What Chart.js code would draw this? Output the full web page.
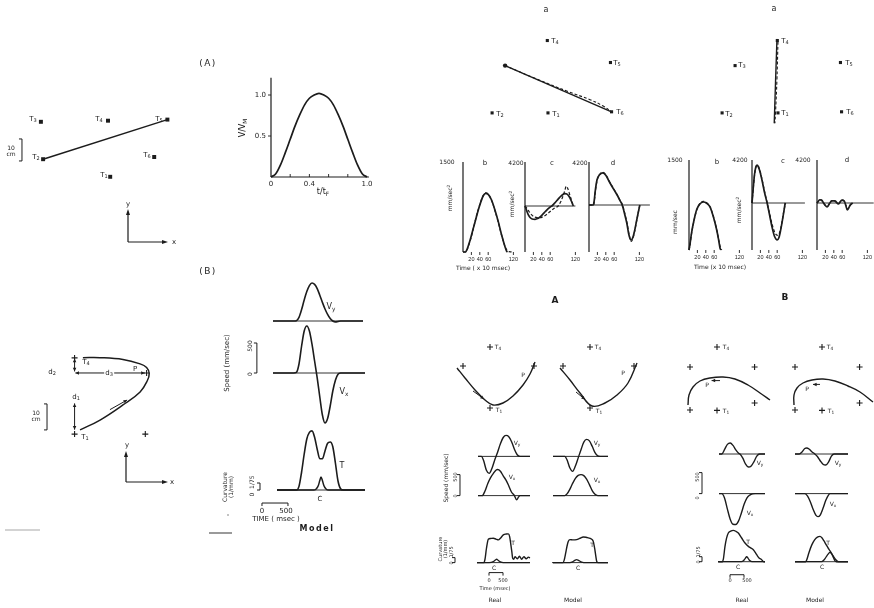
<!DOCTYPE html>
<html>
<head>
<meta charset="utf-8">
<title>Arm trajectories: targets, speed and curvature</title>
<script src="https://cdn.jsdelivr.net/npm/chart.js@4.4.1/dist/chart.umd.min.js"></script>
<style>
  body { margin: 0; background: #fff; }
  #fig { position: relative; width: 874px; height: 608px; overflow: hidden; background: #fff;
         font-family: "DejaVu Sans", sans-serif; color: #1c1c1c; }
  #fig canvas { position: absolute; z-index: 1; }
  #fig svg { position: absolute; left: 0; top: 0; z-index: 2; }
  .lab { position: absolute; z-index: 3; white-space: nowrap; line-height: 1; text-align: center; }
  .lab sub { font-size: .72em; vertical-align: -.3em; line-height: 0; }
  .lab sup { font-size: .72em; vertical-align: .5em; line-height: 0; }
</style>
</head>
<body>
<div id="fig">
  <svg width="874" height="608">
    <g stroke="#1c1c1c" stroke-width="1.2" fill="none">
      <path d="M128 242 V213 M128 242 H163"/>
      <path d="M126 482 V455 M126 482 H163"/>
    </g>
    <g fill="#1c1c1c">
      <polygon points="128,209 126,215 130,215"/>
      <polygon points="168,242 162,240 162,244"/>
      <polygon points="126,451 124,457 128,457"/>
      <polygon points="168,482 162,480 162,484"/>
      <circle cx="228" cy="515" r="0.8" fill="#777"/>
    </g>
    <line x1="5" y1="530" x2="40" y2="530" stroke="#c4c4c4" stroke-width="1.5"/>
    <line x1="209" y1="533" x2="232" y2="533" stroke="#9a9a9a" stroke-width="2"/>
  </svg>
</div>
<script>
// ---------- data ----------

// (A) target layout and straight movement T2 -> T5, cm
const targetsA = [[41, 6], [10.5, 14], [9.5, 31], [40, 31.5], [67, 32], [61, 15]];
const moveA = [[10.5, 14], [67, 32]];

// normalised speed profile V/VM against t/tF
const vvm = [[0, 0], [0.05, 0.04], [0.1, 0.15], [0.15, 0.3], [0.2, 0.46], [0.25, 0.62], [0.3, 0.76],
  [0.35, 0.88], [0.4, 0.96], [0.45, 1.0], [0.5, 1.02], [0.55, 1.0], [0.6, 0.96], [0.65, 0.88],
  [0.7, 0.76], [0.75, 0.62], [0.8, 0.46], [0.85, 0.3], [0.9, 0.15], [0.95, 0.04], [1, 0]];

// (B) movement through a via point, cm
const targetsB = [[13.3, 33.5], [41, 27.7], [13.3, 4.2], [40.5, 4.2]];
const moveB = [[15.4, 5.8], [23.1, 9.6], [31.9, 15.4], [38.5, 20.4], [41.3, 24.8], [42, 27.5],
  [41, 29.8], [38.5, 31.2], [31.9, 32.9], [23.1, 33.6], [16.5, 33.6]];

// (B) model: time ms, speed mm/sec, curvature 1/mm
const vyB = [[0, 0], [400, 0], [450, 5], [500, 60], [550, 190], [600, 350], [650, 490], [700, 590],
  [750, 633], [800, 610], [850, 540], [900, 430], [950, 310], [1000, 200], [1050, 110], [1100, 40],
  [1150, 0], [1200, -15], [1250, -8], [1300, 0], [1731, 0]];
const vxB = [[0, 0], [400, 0], [450, 10], [500, 150], [550, 450], [600, 700], [650, 783], [700, 700],
  [750, 480], [800, 200], [850, -80], [900, -400], [950, -700], [1000, -833], [1050, -760],
  [1100, -550], [1150, -300], [1200, -120], [1250, -20], [1300, 0], [1769, 0]];
const tanB = [[77, 0], [450, 0], [500, 60], [550, 300], [600, 600], [650, 850], [700, 960], [750, 985],
  [800, 880], [850, 680], [900, 520], [950, 520], [1000, 650], [1050, 780], [1100, 800], [1150, 720],
  [1200, 450], [1250, 150], [1300, 20], [1350, 0], [1769, 0]];
const curvB = [[77, 0], [780, 0], [830, 0.002], [870, 0.008], [900, 0.018], [923, 0.025], [950, 0.018],
  [980, 0.008], [1020, 0.002], [1070, 0], [1769, 0]];

// target grid for the 'a' panels, cm (T1..T6)
const gridTargets = [[30.9, 5.5], [5.5, 5.5], [11.4, 27], [30.6, 38.4], [59.3, 28.4], [59.8, 6]];
const pathSolidL = [[11.4, 27], [59.8, 6]];
const pathDashL = [[11.4, 27], [25, 21.2], [40, 15.2], [50, 11.5], [56, 8.6], [59.8, 6]];
const pathSolidR = [[30.4, 37.9], [29.8, 20], [29.2, 0.8]];
const pathDashR = [[30.9, 37.9], [30.4, 20], [29.8, 6], [29.5, 0.8]];

// b / c / d traces, time in units of 10 msec (solid = measured, dashed = model)
const timeTicks = [20, 40, 60, 120];
const bL = [[0, 0], [6, 0], [9, 33], [17, 200], [24.5, 394], [32, 589], [40, 783], [48, 933], [54, 978],
  [60, 961], [68, 867], [76, 700], [84, 506], [92, 283], [100, 89], [104, 11], [106, 0]];
const bLd = [[0, 0], [6, 0], [9, 25], [17, 185], [25, 400], [32, 600], [40, 790], [48, 940], [54, 985],
  [60, 965], [68, 860], [76, 690], [84, 495], [92, 275], [100, 95], [105, 25], [110, 5], [118, 0]];
const cL = [[0, 0], [4, -450], [8, -850], [12, -1100], [17, -1240], [24, -1270], [30, -1200],
  [36, -1030], [42, -800], [48, -550], [54, -300], [60, -90], [64, 0], [70, 250], [76, 520], [82, 800],
  [88, 1030], [95, 1175], [100, 1130], [105, 900], [110, 500], [115, 0]];
const cLd = [[0, 0], [5, -250], [10, -550], [16, -850], [22, -1030], [29, -1110], [36, -1120],
  [43, -1020], [50, -850], [57, -620], [64, -380], [71, -170], [79, 0], [85, 400], [90, 900],
  [95, 1500], [98, 1880], [102, 1650], [106, 1150], [110, 650], [115, 0]];
const dL = [[0, 0], [10, 0], [12, 300], [15, 1400], [19, 2440], [25, 2950], [33, 3130], [40, 2900],
  [50, 2150], [60, 1450], [67, 980], [73, 500], [79, 0], [85, -900], [90, -1760], [95, -2900],
  [100, -3420], [105, -3100], [109, -2440], [113, -1600], [117, -780], [121, 0]];
const dLd = [[0, 0], [11, 0], [13, 500], [16, 1600], [20, 2500], [26, 3000], [33, 3180], [40, 2950],
  [50, 2200], [60, 1500], [67, 1000], [73, 520], [80, 0], [86, -950], [91, -1850], [96, -3000],
  [101, -3550], [105, -3200], [109, -2500], [113, -1650], [117, -800], [121, 0]];
const bR = [[0, 0], [2, 80], [6, 283], [12, 500], [18, 667], [25, 760], [34, 800], [42, 780], [50, 717],
  [56, 600], [62, 450], [67, 300], [71, 150], [74, 30], [76, 0]];
const bRd = [[0, 0], [2, 60], [6, 270], [12, 490], [18, 660], [25, 765], [34, 810], [42, 790], [50, 720],
  [56, 610], [62, 460], [67, 310], [71, 160], [75, 40], [78, 0]];
const cR = [[0, 0], [3, 1500], [6, 2800], [9, 3500], [12, 3710], [15, 3550], [20, 2900], [25, 2000],
  [30, 1000], [36, 0], [42, -1200], [48, -2400], [54, -3300], [60, -3610], [64, -3400], [68, -2700],
  [72, -1800], [76, -800], [79, 0]];
const cRd = [[0, 0], [3, 1400], [6, 2700], [9, 3450], [12, 3700], [15, 3600], [20, 3000], [25, 2100],
  [30, 1100], [36, 50], [42, -1050], [48, -2100], [54, -2850], [60, -3150], [64, -3050], [68, -2550],
  [72, -1700], [76, -750], [80, 0]];
const dR = [[0, 0], [2, 100], [6, 300], [11, 290], [15, 50], [19, -200], [24, -390], [29, -100],
  [35, 200], [43, 200], [51, -100], [55, 100], [59, 290], [65, 200], [69, -300], [72, -680],
  [76, -450], [79, -200], [85, 0]];
const dRd = [[0, 0], [3, 150], [7, 330], [11, 250], [16, 0], [20, -250], [25, -330], [30, -50],
  [36, 240], [43, 160], [50, -60], [56, 150], [60, 310], [65, 150], [69, -250], [73, -600],
  [77, -380], [81, -150], [87, 0]];

// lower panels: target crosses and hand paths (arbitrary cm)
const crossA = [[20, 34], [6.5, 24.5], [42, 24.5], [20, 3.5]];
const pathARe = [[3.5, 23.5], [7.5, 18.5], [12.5, 12.5], [17.5, 7.5], [21.5, 5], [26.5, 6], [31.5, 9.5],
  [36.5, 15], [40, 20.5], [42.5, 26.5]];
const pathAMo = [[5, 23.5], [10, 17.5], [15, 11], [21, 4.5], [27.5, 6], [33.5, 10], [39, 16], [43.5, 26]];
const crossB = [[18.5, 34], [5, 24], [37.3, 24], [5, 2.5], [18.5, 2.3], [37.3, 6]];
const pathBRe = [[4, 5], [4.5, 10], [6.5, 14], [10, 17], [15, 18.5], [21.5, 19], [27.5, 18], [34, 15],
  [40, 11], [45, 7.5]];
const pathBMo = [[4.5, 5], [4.5, 10], [6, 13.5], [9, 16], [13.5, 17.5], [19, 18], [25, 17], [31.5, 14.5],
  [37.5, 11.5], [44, 6.5]];

// lower panels: velocity components, ms and mm/sec
const vyARe = [[0, 0], [120, 0], [200, -100], [300, -330], [400, -405], [500, -280], [600, -80],
  [700, 100], [800, 300], [900, 450], [1000, 500], [1100, 470], [1200, 350], [1300, 170], [1400, 40],
  [1500, 0], [1857, 0]];
const vxARe = [[0, 0], [150, 0], [250, 110], [350, 290], [450, 430], [550, 530], [650, 610], [700, 620],
  [800, 580], [900, 470], [1000, 370], [1100, 230], [1200, 80], [1300, 0], [1380, -100], [1450, -30],
  [1500, 0], [1857, 0]];
const vyAMo = [[0, 0], [420, 0], [500, -80], [600, -270], [700, -357], [800, -230], [900, -35],
  [1000, 160], [1100, 340], [1200, 405], [1300, 370], [1400, 240], [1500, 90], [1600, 10], [1680, 0],
  [1964, 0]];
const vxAMo = [[0, 0], [420, 0], [500, 40], [600, 150], [700, 290], [800, 410], [900, 480], [1000, 500],
  [1100, 475], [1200, 390], [1300, 260], [1400, 120], [1500, 30], [1600, 0], [1964, 0]];
const vyBRe = [[0, 0], [100, 0], [200, 110], [300, 230], [400, 262], [500, 205], [600, 100], [700, 20],
  [750, 0], [850, -100], [950, -240], [1050, -310], [1150, -285], [1250, -180], [1350, -50],
  [1450, 0], [1643, 0]];
const vxBRe = [[0, 0], [100, 0], [200, -110], [300, -370], [400, -610], [500, -730], [600, -735],
  [700, -650], [800, -460], [900, -250], [1000, -100], [1100, -35], [1200, -5], [1290, 0], [1643, 0]];
const vyBMo = [[0, 0], [150, 0], [250, 50], [350, 130], [420, 143], [500, 120], [600, 55], [700, 5],
  [800, -60], [900, -160], [1000, -245], [1100, -262], [1200, -190], [1300, -50], [1400, 0], [1893, 0]];
const vxBMo = [[0, 0], [350, 0], [450, -60], [550, -200], [650, -380], [750, -520], [820, -548],
  [900, -510], [1000, -350], [1100, -160], [1200, -30], [1250, 0], [1893, 0]];

// lower panels: tangential speed T (mm/sec) and curvature C (1/mm)
const tARe = [[-36, 0], [200, 0], [250, 80], [300, 330], [369, 557], [450, 575], [548, 580], [640, 560],
  [726, 540], [800, 580], [905, 660], [1000, 680], [1083, 683], [1130, 620], [1167, 460], [1210, 250],
  [1238, 103], [1280, 80], [1321, 143], [1400, 90], [1480, 150], [1560, 80], [1640, 140], [1720, 90],
  [1800, 130], [1857, 110]];
const cARe = [[-36, 0], [400, 0], [550, 0.003], [620, 0.007], [667, 0.009], [720, 0.006], [800, 0.002],
  [900, 0], [1857, 0]];
const tAMo = [[0, 0], [350, 0], [400, 60], [450, 220], [500, 390], [548, 507], [607, 548], [700, 540],
  [845, 548], [950, 575], [1083, 611], [1180, 605], [1262, 588], [1350, 570], [1400, 548], [1440, 500],
  [1490, 330], [1530, 150], [1560, 31], [1600, 0], [1964, 0]];
const cAMo = [[0, 0], [600, 0], [700, 0.002], [780, 0.006], [845, 0.008], [910, 0.006], [1000, 0.002],
  [1100, 0], [1964, 0]];
const tBRe = [[-30, 0], [120, 0], [155, 60], [214, 365], [270, 560], [333, 683], [420, 730], [512, 745],
  [600, 725], [690, 683], [810, 564], [929, 445], [1048, 365], [1130, 330], [1226, 286], [1345, 167],
  [1430, 90], [1524, 48], [1600, 0], [1643, 0]];
const cBRe = [[-30, 0], [800, 0], [880, 0.003], [940, 0.009], [988, 0.0133], [1040, 0.009],
  [1100, 0.003], [1180, 0], [1643, 0]];
const tBMo = [[0, 0], [380, 0], [417, 40], [500, 220], [600, 400], [700, 520], [800, 585], [893, 603],
  [960, 570], [1030, 500], [1100, 420], [1180, 330], [1250, 260], [1320, 180], [1380, 90], [1429, 20],
  [1480, 0], [1893, 0]];
const cBMo = [[0, 0], [950, 0], [1050, 0.006], [1150, 0.017], [1250, 0.025], [1350, 0.017],
  [1450, 0.006], [1550, 0], [1893, 0]];

// ---------- drawing helpers ----------
const INK = '#1c1c1c';
const PAD = 30;
const fig = document.getElementById('fig');

const pts = a => a.map(([x, y]) => ({ x, y }));
const curve = (a, o = {}) => ({ data: pts(a), showLine: true, pointRadius: 0, borderColor: INK,
  borderWidth: 1.6, cubicInterpolationMode: 'monotone', clip: false, ...o });
const dashed = (a, o = {}) => curve(a, { borderDash: [3, 2], borderWidth: 1.2, ...o });
const path = (a, o = {}) => curve(a, { cubicInterpolationMode: 'default', tension: 0.4, ...o });
const marks = (a, style, r) => ({ data: pts(a), showLine: false, pointStyle: style, pointRadius: r,
  backgroundColor: INK, borderColor: INK, borderWidth: style === 'cross' ? 1.1 : 0, clip: false });

// frame: left edge at x = 0, baseline pixel for value 0, px per unit on each axis
function frame(x0, base, w, kx, ky, lo, hi) {
  return { box: { x: x0, y: base - hi * ky, w, h: (hi - lo) * ky }, xr: [0, w / kx], yr: [lo, hi], ky };
}

// axes, zero lines, scale bars and arrows, all placed through the chart scales
const decoPlugin = {
  id: 'deco',
  beforeDatasetsDraw(chart, _args, o) {
    const { ctx, scales } = chart;
    const X = v => scales.x.getPixelForValue(v);
    const Y = (v, ax) => scales[ax || 'y'].getPixelForValue(v);
    const seg = (x1, y1, x2, y2, w) => {
      ctx.lineWidth = w || 1;
      ctx.beginPath(); ctx.moveTo(x1, y1); ctx.lineTo(x2, y2); ctx.stroke();
    };
    const head = (xa, ya, xb, yb) => {
      const a = Math.atan2(yb - ya, xb - xa), s = 4;
      ctx.beginPath();
      ctx.moveTo(xb, yb);
      ctx.lineTo(xb - s * Math.cos(a - 0.45), yb - s * Math.sin(a - 0.45));
      ctx.lineTo(xb - s * Math.cos(a + 0.45), yb - s * Math.sin(a + 0.45));
      ctx.closePath(); ctx.fill();
    };
    ctx.save();
    ctx.strokeStyle = INK; ctx.fillStyle = INK;
    ctx.textBaseline = 'middle';
    (o.zero || []).forEach(([a, b]) => seg(X(a), Y(0), X(b), Y(0), 0.9));
    if (o.yAxis) seg(X(0), Y(o.yAxis[0]), X(0), Y(o.yAxis[1]), 1.2);
    if (o.xAxis) seg(X(o.xAxis[0]), Y(0), X(o.xAxis[1]), Y(0), 1.2);
    if (o.xTicks) {
      const t = o.xTicks, yb = Y(t.y);
      t.values.forEach(v => seg(X(v), yb, X(v), yb + t.len, 0.9));
      ctx.font = t.font; ctx.textAlign = 'center';
      t.labels.forEach(([v, s]) => ctx.fillText(s, X(v), yb + t.dy));
    }
    if (o.yTicks) {
      const t = o.yTicks;
      ctx.font = t.font; ctx.textAlign = 'right';
      t.labels.forEach(([v, s]) => {
        seg(X(0) - t.len, Y(v), X(0), Y(v), 0.9);
        ctx.fillText(s, X(0) - t.len - 2, Y(v));
      });
    }
    (o.bars || []).forEach(b => {
      const x = X(b.x), y1 = Y(b.from, b.axis), y2 = Y(b.to, b.axis);
      seg(x, y1, x, y2, 1);
      seg(x - 3, y1, x, y1, 1);
      seg(x - 3, y2, x, y2, 1);
    });
    (o.tbars || []).forEach(b => {
      const y = Y(b.y), x1 = X(b.from), x2 = X(b.to);
      seg(x1, y, x2, y, 1);
      seg(x1, y, x1, y + 3, 1);
      seg(x2, y, x2, y + 3, 1);
    });
    (o.arrows || []).forEach(([x1, y1, x2, y2, both]) => {
      seg(X(x1), Y(y1), X(x2), Y(y2), 1);
      head(X(x1), Y(y1), X(x2), Y(y2));
      if (both) head(X(x2), Y(y2), X(x1), Y(y1));
    });
    ctx.restore();
  }
};

function plot(f, datasets, deco = {}, yc = null) {
  const { box, xr, yr } = f;
  const cv = document.createElement('canvas');
  const W = Math.round(box.w + 2 * PAD), H = Math.round(box.h + 2 * PAD);
  cv.width = W; cv.height = H;
  Object.assign(cv.style, { left: (box.x - PAD) + 'px', top: (box.y - PAD) + 'px',
    width: W + 'px', height: H + 'px' });
  fig.appendChild(cv);
  const scales = {
    x: { type: 'linear', display: false, min: xr[0], max: xr[1] },
    y: { type: 'linear', display: false, min: yr[0], max: yr[1] }
  };
  if (yc) scales.yc = { type: 'linear', display: false, min: yc[0], max: yc[1] };
  return new Chart(cv, {
    type: 'scatter',
    data: { datasets },
    options: {
      responsive: false, animation: false, events: [],
      layout: { padding: { left: PAD, right: W - PAD - box.w, top: PAD, bottom: H - PAD - box.h } },
      plugins: { legend: { display: false }, tooltip: { enabled: false }, deco },
      scales
    },
    plugins: [decoPlugin]
  });
}

// ---------- left half ----------
plot(frame(20, 190, 170, 2.2, 2.2, 0, 90 / 2.2),
  [path(moveA, { borderWidth: 1.5, tension: 0 }), marks(targetsA, 'rect', 2.8)],
  { bars: [{ x: 0.9, from: 13.2, to: 23.2 }] });

plot(frame(271, 177, 96, 96, 82, 0, 100 / 82),
  [curve(vvm, { borderWidth: 1.7 })],
  {
    yAxis: [0, 1.21], xAxis: [0, 1.02],
    xTicks: { y: 0, len: -3, values: [0.2, 0.4, 0.6, 0.8], dy: 7, font: '7px "DejaVu Sans"',
      labels: [[0, '0'], [0.4, '0.4'], [1, '1.0']] },
    yTicks: { len: 3, font: '7px "DejaVu Sans"', labels: [[0.5, '0.5'], [1, '1.0']] }
  });

plot(frame(40, 445, 130, 2.6, 2.6, 0, 100 / 2.6),
  [path(moveB, { borderWidth: 1.5 }), marks(targetsB, 'cross', 3)],
  {
    bars: [{ x: 2.7, from: 5.8, to: 15.8 }],
    arrows: [[13.3, 16, 13.3, 5.9, true], [13.3, 28.3, 13.3, 33.2, true], [13.6, 27.7, 40.3, 27.7, true],
      [26.9, 13.6, 33.5, 17.3, false]]
  });

const kB = 0.052, sB = 0.06, kCB = 525;
plot(frame(273, 321, 90, kB, sB, -300, 800), [curve(vyB)], { zero: [[0, 1731]] });
plot(frame(273, 373, 92, kB, sB, -1000, 900), [curve(vxB)],
  { zero: [[0, 1769]], bars: [{ x: -310, from: 0, to: 500 }] });
plot(frame(273, 490, 92, kB, sB, -100, 1100),
  [curve(tanB), curve(curvB, { yAxisID: 'yc', borderWidth: 1.5 })],
  {
    zero: [[77, 1769]],
    tbars: [{ y: -217, from: -212, to: 288 }],
    bars: [{ x: -250, from: 0, to: 1 / 75, axis: 'yc' }]
  },
  [-100 * sB / kCB, 1100 * sB / kCB]);

// ---------- upper right: paths between targets ----------
plot(frame(480, 125, 150, 2.2, 2.2, 0, 95 / 2.2),
  [curve(pathSolidL, { cubicInterpolationMode: 'default', borderWidth: 1.4 }),
   path(pathDashL, { borderDash: [3, 2], borderWidth: 1.1 }),
   marks(gridTargets.filter((_, i) => i !== 2), 'rect', 2.2),
   marks([gridTargets[2]], 'circle', 2.2)]);
plot(frame(710, 125, 150, 2.2, 2.2, 0, 95 / 2.2),
  [curve(pathSolidR, { cubicInterpolationMode: 'default', borderWidth: 1.4 }),
   path(pathDashR, { borderDash: [3, 2], borderWidth: 1.1 }),
   marks(gridTargets, 'rect', 2.2)]);

// b / c / d traces
const kT = 0.42, tickFont = '5.5px "Liberation Sans Narrow", "Liberation Sans", sans-serif';
const ticks = y => ({ y, len: 3, dy: 7, font: tickFont, values: timeTicks,
  labels: timeTicks.map(v => [v, String(v)]) });
const sAcc = 43 / 4200;
const traces = [
  [frame(463, 252, 52, kT, 0.06, 0, 1500), bL, bLd, null],
  [frame(525, 206, 52, kT, 44 / 4200, -4390, 4200), cL, cLd, 120],
  [frame(589, 205, 61, kT, sAcc, -4590, 4200), dL, dLd, 145],
  [frame(689, 250, 52, kT, 0.06, 0, 1500), bR, bRd, null],
  [frame(752, 203, 53, kT, sAcc, -4590, 4200), cR, cRd, 126],
  [frame(817, 203, 57, kT, sAcc, -4590, 4200), dR, dRd, 135]
];
traces.forEach(([f, solid, dash, zeroEnd]) => {
  const deco = { yAxis: f.yr, xTicks: ticks(f.yr[0]) };
  if (zeroEnd) deco.zero = [[0, zeroEnd]];
  plot(f, [curve(solid, { borderWidth: 1.7 }), dashed(dash)], deco);
});

// ---------- lower right: Real / Model ----------
plot(frame(450, 415, 90, 2, 2, 0, 37.5),
  [path(pathARe, { borderWidth: 1.4 }), marks(crossA, 'cross', 3)],
  { arrows: [[11.5, 12, 17, 8, false]] });
plot(frame(550, 415, 90, 2, 2, 0, 37.5),
  [path(pathAMo, { borderWidth: 1.4 }), marks(crossA, 'cross', 3)],
  { arrows: [[13, 11.5, 17.5, 7.8, false]] });
plot(frame(680, 415, 95, 2, 2, 0, 37.5),
  [path(pathBRe, { borderWidth: 1.4 }), marks(crossB, 'cross', 3)],
  { arrows: [[20, 17.2, 15.8, 17.2, false]] });
plot(frame(785, 415, 95, 2, 2, 0, 37.5),
  [path(pathBMo, { borderWidth: 1.4 }), marks(crossB, 'cross', 3)],
  { arrows: [[17.5, 15.3, 14, 15.3, false]] });

const kL = 0.028, sL = 0.042, kCL = 375;
const lw = { borderWidth: 1.4 };
const cAx = (lo, hi) => [lo * sL / kCL, hi * sL / kCL];

// Real A
plot(frame(478, 456, 52, kL, sL, -600, 700), [curve(vyARe, lw)], { zero: [[0, 1857]] });
plot(frame(478, 496, 52, kL, sL, -300, 800), [curve(vxARe, lw)],
  { zero: [[0, 1857]], bars: [{ x: -643, from: 0, to: 500 }] });
plot(frame(478, 563, 52, kL, sL, -100, 800),
  [curve(tARe, lw), curve(cARe, { yAxisID: 'yc', borderWidth: 1.3 })],
  {
    zero: [[-36, 1857]],
    tbars: [{ y: -238, from: 393, to: 893 }],
    bars: [{ x: -821, from: 0, to: 1 / 75, axis: 'yc' }]
  }, cAx(-100, 800));

// Model A
plot(frame(553, 456, 55, kL, sL, -600, 700), [curve(vyAMo, lw)], { zero: [[0, 1964]] });
plot(frame(553, 496, 55, kL, sL, -300, 800), [curve(vxAMo, lw)], { zero: [[0, 1964]] });
plot(frame(553, 563, 55, kL, sL, -100, 800),
  [curve(tAMo, lw), curve(cAMo, { yAxisID: 'yc', borderWidth: 1.3 })],
  { zero: [[-36, 1964]] }, cAx(-100, 800));

// Real B
plot(frame(719, 454, 46, kL, sL, -500, 500), [curve(vyBRe, lw)], { zero: [[0, 1643]] });
plot(frame(719, 494, 46, kL, sL, -900, 300), [curve(vxBRe, lw)],
  { zero: [[0, 1643]], bars: [{ x: -607, from: 0, to: 500 }] });
plot(frame(719, 562, 46, kL, sL, -100, 850),
  [curve(tBRe, lw), curve(cBRe, { yAxisID: 'yc', borderWidth: 1.3 })],
  {
    zero: [[-30, 1643]],
    tbars: [{ y: -310, from: 393, to: 893 }],
    bars: [{ x: -607, from: 0, to: 1 / 75, axis: 'yc' }]
  }, cAx(-100, 850));

// Model B
plot(frame(795, 454, 53, kL, sL, -500, 500), [curve(vyBMo, lw)], { zero: [[0, 1893]] });
plot(frame(795, 494, 53, kL, sL, -900, 300), [curve(vxBMo, lw)], { zero: [[0, 1893]] });
plot(frame(795, 562, 53, kL, sL, -100, 850),
  [curve(tBMo, lw), curve(cBMo, { yAxisID: 'yc', borderWidth: 1.3 })],
  { zero: [[0, 1893]] }, cAx(-100, 850));

// ---------- text ----------
// [html, centre x, centre y, size, rotation, flags: b bold, w white box, s spaced]
const labels = [
  ['(A)', 208, 63, 9, 0, 's'],
  ['T<sub>3</sub>', 33, 119, 7], ['T<sub>4</sub>', 99, 119, 7], ['T<sub>5</sub>', 159, 119, 7],
  ['T<sub>2</sub>', 36, 157, 7], ['T<sub>6</sub>', 147, 155, 7], ['T<sub>1</sub>', 104, 175, 7],
  ['10<br>cm', 11, 151, 6],
  ['y', 128, 204, 7], ['x', 174, 242, 7],
  ['V/V<sub>M</sub>', 243, 128, 8, -90],
  ['t/t<sub>F</sub>', 323, 192, 8],
  ['(B)', 208, 271, 9, 0, 's'],
  ['T<sub>4</sub>', 86, 362, 7], ['d<sub>2</sub>', 52, 372, 7], ['d<sub>3</sub>', 109, 373, 7, 0, 'w'],
  ['P', 135, 369, 7], ['d<sub>1</sub>', 76, 397, 7, 0, 'w'], ['T<sub>1</sub>', 85, 437, 7],
  ['10<br>cm', 36, 416, 6],
  ['y', 127, 445, 7], ['x', 172, 482, 7],
  ['V<sub>y</sub>', 331, 307, 8], ['V<sub>x</sub>', 344, 392, 8],
  ['500', 250, 346, 6, -90], ['0', 250, 374, 6, -90],
  ['Speed (mm/sec)', 227, 363, 7, -90],
  ['Curvature<br>(1/mm)', 228, 487, 6, -90],
  ['0 &nbsp;1/75', 252, 486, 6, -90],
  ['T', 342, 466, 8], ['C', 320, 499, 7],
  ['0', 262, 511, 7], ['500', 286, 511, 7], ['TIME ( msec )', 276, 519, 7],
  ['Model', 317, 529, 8, 0, 'bs'],

  ['a', 546, 10, 8], ['a', 774, 9, 8],
  ['T<sub>4</sub>', 555, 41, 7], ['T<sub>5</sub>', 617, 63, 7], ['T<sub>2</sub>', 500, 114, 7],
  ['T<sub>1</sub>', 556, 114, 7], ['T<sub>6</sub>', 620, 112, 7],
  ['T<sub>4</sub>', 785, 41, 7], ['T<sub>3</sub>', 742, 65, 7], ['T<sub>5</sub>', 849, 63, 7],
  ['T<sub>2</sub>', 729, 114, 7], ['T<sub>1</sub>', 785, 113, 7], ['T<sub>6</sub>', 850, 112, 7],
  ['1500', 447, 162, 6], ['b', 485, 163, 7], ['4200', 516, 163, 6], ['c', 552, 163, 7],
  ['4200', 580, 163, 6], ['d', 613, 163, 7],
  ['mm/sec<sup>2</sup>', 450, 198, 6, -90], ['mm/sec<sup>2</sup>', 512, 204, 6, -90],
  ['Time ( x 10 msec)', 483, 268, 6],
  ['1500', 675, 160, 6], ['b', 717, 162, 7], ['4200', 740, 160, 6], ['c', 783, 161, 7],
  ['4200', 803, 160, 6], ['d', 847, 160, 7],
  ['mm/sec', 675, 222, 6, -90], ['mm/sec<sup>2</sup>', 739, 210, 6, -90],
  ['Time (x 10 msec)', 720, 267, 6],

  ['A', 555, 300, 9, 0, 'b'], ['B', 785, 297, 9, 0, 'b'],
  ['T<sub>4</sub>', 498, 347, 6], ['T<sub>1</sub>', 499, 410, 6], ['P', 523, 375, 6],
  ['T<sub>4</sub>', 598, 347, 6], ['T<sub>1</sub>', 599, 411, 6], ['P', 623, 373, 6],
  ['T<sub>4</sub>', 726, 347, 6], ['T<sub>1</sub>', 726, 411, 6], ['P', 707, 385, 6],
  ['T<sub>4</sub>', 830, 347, 6], ['T<sub>1</sub>', 831, 411, 6], ['P', 807, 389, 6],
  ['V<sub>y</sub>', 517, 443, 6], ['V<sub>x</sub>', 512, 477, 6],
  ['V<sub>y</sub>', 597, 443, 6], ['V<sub>x</sub>', 597, 480, 6],
  ['V<sub>y</sub>', 760, 463, 6], ['V<sub>x</sub>', 750, 513, 6],
  ['V<sub>y</sub>', 838, 463, 6], ['V<sub>x</sub>', 833, 504, 6],
  ['500', 455, 477, 5, -90], ['0', 455, 496, 5, -90], ['Speed (mm/sec)', 446, 478, 6, -90],
  ['500', 697, 477, 5, -90], ['0', 697, 498, 5, -90],
  ['Curvature<br>(1/mm)', 443, 549, 5, -90],
  ['1/75', 451, 552, 5, -90], ['0', 451, 563, 5, -90],
  ['1/75', 698, 552, 5, -90], ['0', 698, 562, 5, -90],
  ['T', 513, 543, 6], ['C', 494, 568, 6], ['T', 592, 545, 6], ['C', 578, 568, 6],
  ['T', 748, 542, 6], ['C', 738, 567, 6], ['T', 828, 543, 6], ['C', 822, 567, 6],
  ['0', 489, 580, 5], ['500', 503, 580, 5], ['Time (msec)', 495, 588, 5],
  ['0', 730, 580, 5], ['500', 747, 580, 5],
  ['Real', 495, 600, 6], ['Model', 573, 600, 6], ['Real', 742, 600, 6], ['Model', 815, 600, 6]
];

labels.forEach(([html, x, y, size, rot = 0, flags = '']) => {
  const d = document.createElement('div');
  d.className = 'lab';
  d.innerHTML = html;
  d.style.left = x + 'px';
  d.style.top = y + 'px';
  d.style.fontSize = size + 'px';
  d.style.transform = `translate(-50%, -50%) rotate(${rot}deg)`;
  if (flags.includes('b')) d.style.fontWeight = 'bold';
  if (flags.includes('s')) d.style.letterSpacing = '1.5px';
  if (flags.includes('w')) { d.style.background = '#fff'; d.style.padding = '0 1px'; }
  fig.appendChild(d);
});
</script>
</body>
</html>
